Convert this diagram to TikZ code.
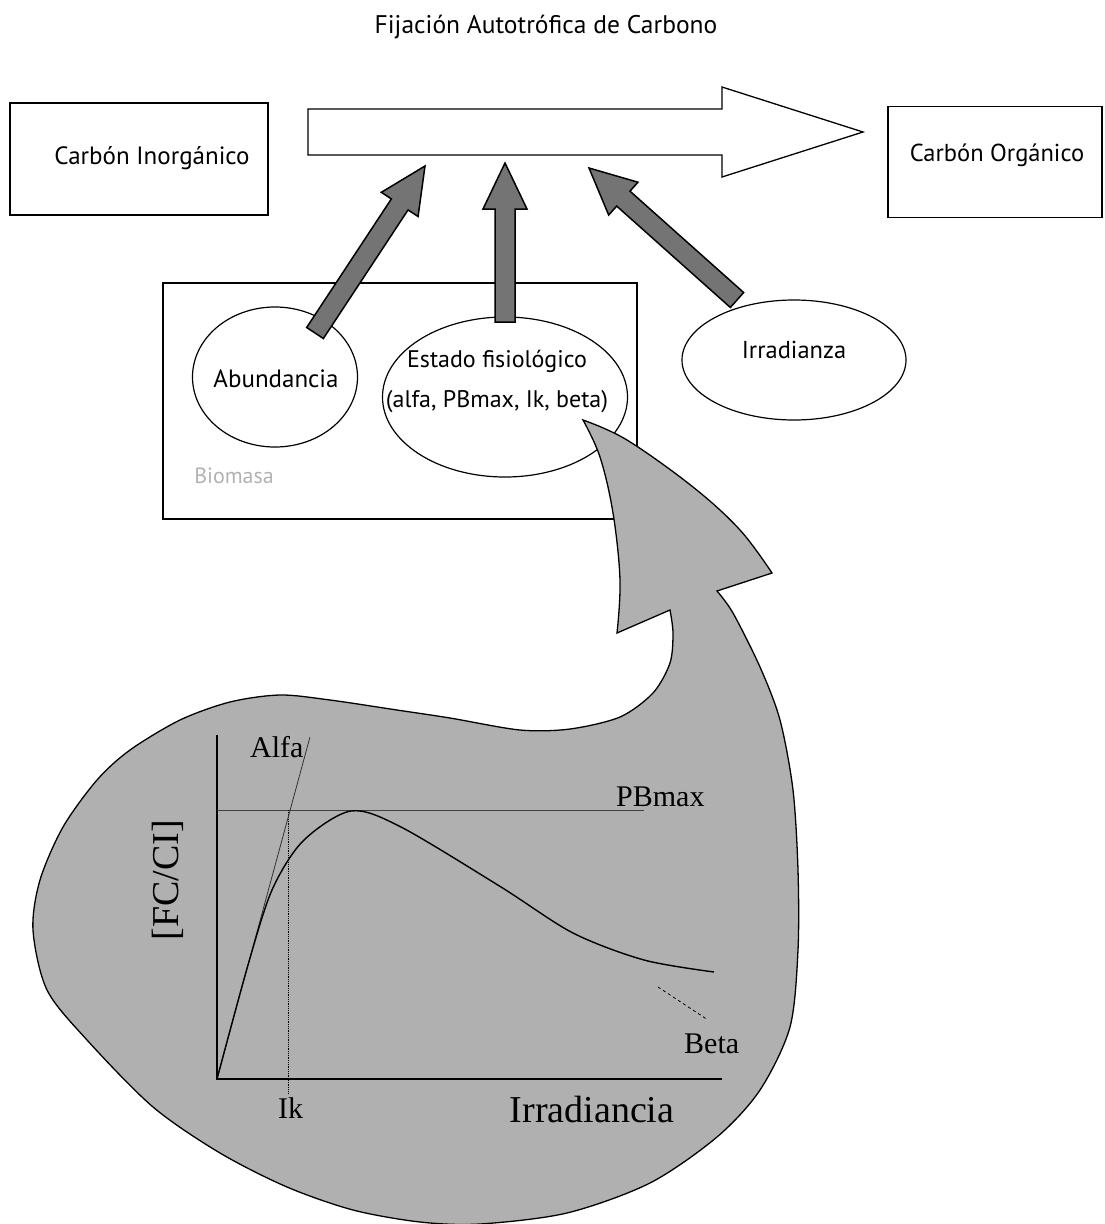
\documentclass[tikz,border=0pt]{standalone}
\usepackage{fontspec}
\setmainfont{PT Sans}
\newfontfamily\plotfont{Liberation Serif}
\usetikzlibrary{calc,shapes.geometric}
\definecolor{BlobGray}{HTML}{B0B0B0}
\definecolor{PushGray}{HTML}{747474}
\newcommand{\fatarrow}[2]{%
\coordinate (hb) at ($(#2)!46pt!(#1)$);
\filldraw[push] ($(#1)!10pt!90:(#2)$) -- ($(hb)!10pt!90:(#2)$) -- ($(hb)!22pt!90:(#2)$) -- (#2) -- ($(hb)!22pt!-90:(#2)$) -- ($(hb)!10pt!-90:(#2)$) -- ($(#1)!10pt!-90:(#2)$) -- cycle;}

\begin{document}
\begin{tikzpicture}[x=1pt,y=-1pt,
box/.style={draw,line width=1.3pt,inner sep=0pt},
oval/.style={draw,ellipse,line width=1.2pt,inner sep=0pt},
lbl/.style={font=\fontsize{24.5}{40}\selectfont,inner sep=0pt},
push/.style={draw,line width=1.5pt,fill=PushGray,line join=miter},
plt/.style={font=\plotfont\fontsize{30}{34}\selectfont,inner sep=0pt}]
\useasboundingbox (0,0) rectangle (1104,1224);
\node[lbl,font=\fontsize{25.5}{30}\selectfont] (title) at (546,27) {Fijación Autotrófica de Carbono};
\node[box,minimum width=258,minimum height=112] (inorg) at (139,159) {};
\node[lbl,font=\fontsize{25}{30}\selectfont] (inorgtxt) at (152,158) {Carbón Inorgánico};
\node[box,minimum width=214,minimum height=111] (org) at (995,162) {};
\node[lbl] (orgtxt) at (997,155) {Carbón Orgánico};
\draw[line width=1.3pt,line join=miter] (308,109) -- (722,109) -- (722,87) -- (863,132) -- (722,177) -- (722,155) -- (308,155) -- cycle;
\coordinate (tipA) at (425,166);
\coordinate (tipB) at (505,163);
\coordinate (tipC) at (589,168);
\node[box,minimum width=474,minimum height=236] (panel) at (400,401) {};
\node[oval,minimum width=165,minimum height=140] (abund) at (275,377) {};
\node[lbl,font=\fontsize{25}{30}\selectfont] (abundtxt) at (276,379) {Abundancia};
\node[oval,minimum width=245,minimum height=160] (estado) at (505,397) {};
\node[lbl,align=center,font=\fontsize{24}{40}\selectfont] (estadotxt) at (497,381) {Estado fisiológico\\(alfa, PBmax, Ik, beta)};
\node[oval,minimum width=224,minimum height=120] (irrad) at (794,360) {};
\node[lbl] (irradtxt) at (794,350) {Irradianza};
\node[font=\fontsize{22}{24}\selectfont,text=black!30,inner sep=0pt] (biomasa) at (234,476) {Biomasa};
\coordinate (tailA) at (315,333);
\coordinate (tailB) at (505,322);
\coordinate (tailC) at (737,300);
% zoom blob
\filldraw[fill=BlobGray,line width=1.3pt] plot[smooth,tension=0.6] coordinates {(617,633) (620,580) (613,513) (600,457) (583,420)} -- plot[smooth,tension=0.6] coordinates {(583,420) (627,440) (693,487) (740,530) (772,573)} -- (717,591) -- plot[smooth] coordinates {(717,591) (733,613) (760,667) (780,720) (793,790) (798,870) (798,950) (790,1027) (760,1090) (717,1137) (650,1183) (567,1213) (480,1224) (420,1222) (353,1210) (287,1187) (220,1153) (153,1107) (87,1040) (47,990) (33,930) (40,880) (63,827) (97,780) (130,750) (180,720) (230,702) (280,695) (330,700) (397,710) (450,718) (520,730) (570,729) (620,717) (653,693) (670,663) (673,633) (670,610)} -- cycle;
\coordinate (o) at (217,1079);
\draw[line width=1.2pt] (217,735) -- (o) -- (722,1079);
\draw[line width=0.8pt,black!75] (217,810) -- (644,810);
\draw[line width=0.8pt,densely dotted] (288,810) -- (288,1093);
\draw[line width=0.8pt,black!80] (o) -- (310,737);
\draw[line width=0.8pt,dashed] (658,987) -- (708,1020);
\draw[line width=1.4pt] plot[smooth] coordinates {(217,1079) (248,965) (272,890) (303,841) (351,811) (401,827) (501,887) (573,933) (644,960) (714,972)};
\node[plt,anchor=base west] (alfa) at (250,757) {Alfa};
\node[plt,anchor=base west] (pbmax) at (616,806) {PBmax};
\node[plt,anchor=base west] (beta) at (684,1053) {Beta};
\node[plt,anchor=base west] (ik) at (278,1118) {Ik};
\node[plt,anchor=base,font=\plotfont\fontsize{38}{42}\selectfont] (xlab) at (592,1122) {Irradiancia};
\node[plt,rotate=90,font=\plotfont\fontsize{38}{42}\selectfont] (ylab) at (168,880) {[FC/CI]};
\fatarrow{tailA}{tipA}
\fatarrow{tailB}{tipB}
\fatarrow{tailC}{tipC}
\end{tikzpicture}
\end{document}
